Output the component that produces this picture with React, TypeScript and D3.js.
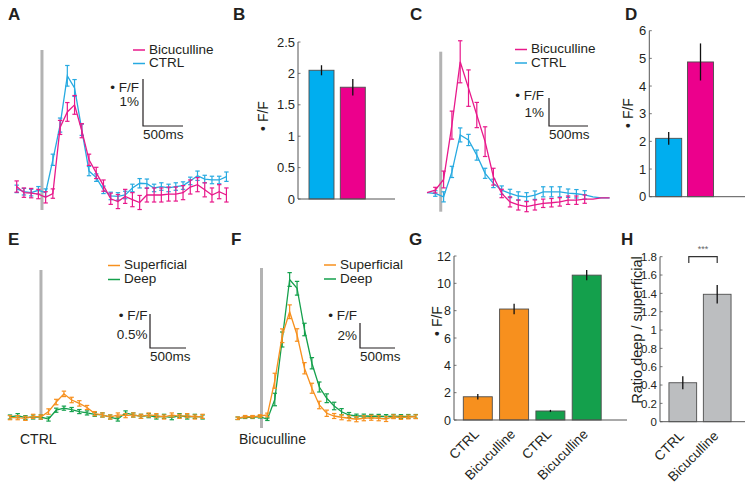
import React, { useEffect, useRef } from 'react';
import * as d3 from 'd3';

const FONT = "'Liberation Sans', Arial, Helvetica, sans-serif";
const INK = '#231f20';
const MAGENTA = '#e8198b';
const CYAN = '#27aae1';
const ORANGE = '#f7901e';
const GREEN = '#14a04c';
const BAR_CYAN = '#00aeef';
const BAR_MAGENTA = '#ec008c';
const BAR_GRAY = '#bcbec0';
const STIM_GRAY = '#b3b3b3';

// ---- A: time course, % dF/F per frame
const A_CTRL = [0.02, -0.04, -0.06, -0.01, -0.06, 0.64, 1.38, 2.43, 2.17, 1.28, 0.4, 0.26, 0.0, -0.13, -0.14, -0.11, 0.04, 0.14, 0.13, 0.04, 0.07, 0.04, 0.07, 0.09, 0.19, 0.3, 0.23, 0.21, 0.21, 0.28];
const A_CTRL_ERR = [0.08, 0.07, 0.07, 0.08, 0.08, 0.12, 0.15, 0.22, 0.18, 0.12, 0.1, 0.08, 0.08, 0.08, 0.08, 0.08, 0.08, 0.1, 0.1, 0.08, 0.08, 0.08, 0.08, 0.08, 0.08, 0.1, 0.08, 0.08, 0.08, 0.1];
const A_BIC = [0.07, -0.06, -0.07, -0.09, -0.16, -0.08, 1.33, 1.66, 1.81, 1.26, 0.64, 0.36, 0.09, -0.19, -0.25, -0.14, -0.21, -0.27, -0.11, -0.11, -0.11, -0.09, -0.09, -0.06, 0.06, 0.11, 0.0, -0.11, -0.04, -0.11];
const A_BIC_ERR = [0.12, 0.1, 0.1, 0.1, 0.12, 0.1, 0.15, 0.2, 0.2, 0.15, 0.12, 0.12, 0.12, 0.12, 0.15, 0.15, 0.15, 0.15, 0.15, 0.15, 0.15, 0.15, 0.15, 0.15, 0.15, 0.15, 0.15, 0.15, 0.15, 0.15];

// ---- C
const C_CTRL = [-0.02, -0.05, -0.17, 0.72, 2.04, 1.86, 1.32, 0.67, 0.31, 0.07, -0.05, -0.14, -0.17, -0.11, 0.01, 0.01, 0.01, -0.04, -0.06, -0.1, -0.17, -0.21, -0.21];
const C_CTRL_ERR = [0, 0.1, 0.18, 0.2, 0.25, 0.2, 0.18, 0.18, 0.15, 0.15, 0.15, 0.15, 0.15, 0.15, 0.18, 0.18, 0.18, 0.15, 0.15, 0.15, 0, 0, 0];
const C_BIC = [-0.02, 0.07, 0.45, 2.39, 4.65, 3.71, 2.75, 1.8, 0.55, -0.05, -0.35, -0.46, -0.52, -0.46, -0.4, -0.38, -0.35, -0.29, -0.29, -0.25, -0.25, -0.21, -0.21];
const C_BIC_ERR = [0, 0.1, 0.3, 0.5, 0.75, 0.65, 0.45, 0.53, 0.3, 0.15, 0.18, 0.18, 0.18, 0.18, 0.15, 0.15, 0.15, 0.15, 0.15, 0.15, 0, 0, 0];

// ---- E (CTRL)
const E_SUP = [-0.01, -0.01, -0.02, 0.01, 0.0, 0.08, 0.22, 0.34, 0.25, 0.2, 0.14, 0.05, 0.03, 0.0, 0.03, 0.02, 0.03, 0.01, 0.03, 0.02, 0.0, 0.03, 0.01, 0.02, 0.0, 0.01];
const E_SUP_ERR = [0.03, 0.03, 0.03, 0.03, 0.03, 0.04, 0.04, 0.04, 0.04, 0.04, 0.03, 0.03, 0.03, 0.03, 0.03, 0.03, 0.03, 0.03, 0.03, 0.03, 0.03, 0.03, 0.03, 0.03, 0.03, 0.03];
const E_DEEP = [0.0, 0.02, -0.01, 0.0, 0.0, -0.03, 0.1, 0.13, 0.11, 0.08, 0.06, 0.04, 0.03, 0.0, -0.03, 0.06, 0.03, 0.01, 0.02, 0.0, 0.01, -0.01, 0.02, 0.0, 0.01, 0.0];
const E_DEEP_ERR = [0.03, 0.03, 0.03, 0.03, 0.03, 0.03, 0.03, 0.03, 0.03, 0.03, 0.03, 0.03, 0.03, 0.03, 0.03, 0.03, 0.03, 0.03, 0.03, 0.03, 0.03, 0.03, 0.03, 0.03, 0.03, 0.03];

// ---- F (Bicuculline)
const F_SUP = [-0.1, 0.02, 0.02, 0.08, 0.16, 2.9, 6.5, 8.42, 6.56, 3.9, 2.3, 0.96, 0.3, 0.08, -0.02, -0.1, -0.18, -0.1, -0.06, -0.1, -0.16, 0.02, -0.04, 0.0, 0.02];
const F_SUP_ERR = [0.1, 0.1, 0.1, 0.1, 0.15, 0.6, 0.55, 0.55, 0.5, 0.45, 0.4, 0.3, 0.25, 0.2, 0.2, 0.2, 0.2, 0.2, 0.2, 0.2, 0.2, 0.15, 0.15, 0.15, 0.15];
const F_DEEP = [-0.1, -0.02, -0.02, 0.02, -0.18, 1.4, 6.2, 11.0, 10.3, 7.0, 4.3, 2.4, 1.5, 0.88, 0.42, 0.16, 0.08, 0.08, 0.06, 0.06, 0.04, 0.06, 0.04, 0.05, 0.05];
const F_DEEP_ERR = [0.1, 0.1, 0.1, 0.1, 0.1, 0.5, 0.6, 0.55, 0.55, 0.5, 0.45, 0.4, 0.35, 0.3, 0.25, 0.2, 0.15, 0.15, 0.15, 0.15, 0.15, 0.15, 0.15, 0.15, 0.15];

// ---- bar panels
const B_VALUES = [2.05, 1.78];
const B_ERR = [0.08, 0.13];
const B_TICKS = [0, 0.5, 1, 1.5, 2, 2.5];

const D_VALUES = [2.11, 4.87];
const D_ERR = [0.23, 0.67];
const D_TICKS = [0, 1, 2, 3, 4, 5, 6];

const G_CATEGORIES = ['CTRL', 'Bicuculline', 'CTRL', 'Bicuculline'];
const G_VALUES = [1.7, 8.12, 0.66, 10.6];
const G_ERR = [0.2, 0.39, 0.08, 0.37];
const G_TICKS = [0, 2, 4, 6, 8, 10, 12];

const H_CATEGORIES = ['CTRL', 'Bicuculline'];
const H_VALUES = [0.425, 1.39];
const H_ERR = [0.07, 0.1];
const H_TICKS = [0, 0.2, 0.4, 0.6, 0.8, 1, 1.2, 1.4, 1.6, 1.8];

type Sel = d3.Selection<SVGSVGElement, unknown, null, undefined>;

interface Trace { label: string; values: number[]; err: number[]; color: string }

interface TraceLayout {
  x0: number; pxPerMs: number; frameMs: number; stimMs: number;
  yDomain: [number, number]; yTop: number; yBottom: number;
  unit: number; unitLabel: string;
  bar: { x: number; y: number; ffY: number; pctY: number; textRight: number };
  legend: { x: number; y: number; gap: number };
  caption?: { text: string; x: number; y: number };
}

const textStyle = (t: d3.Selection<SVGTextElement, unknown, null, undefined>, size = 14) =>
  t.attr('font-family', FONT).attr('font-size', size).attr('fill', INK);

function drawLetter(svg: Sel, letter: string, x: number, y: number) {
  textStyle(svg.append('text'), 17).attr('x', x).attr('y', y).attr('font-weight', 'bold').text(letter);
}

function drawTraces(svg: Sel, layout: TraceLayout, traces: Trace[], legendOrder: Trace[]) {
  const g = svg.append('g');
  const x = d3.scaleLinear().domain([0, 1000]).range([layout.x0, layout.x0 + 1000 * layout.pxPerMs]);
  const y = d3.scaleLinear().domain(layout.yDomain).range([layout.yBottom, layout.yTop]);
  const t = (i: number) => i * layout.frameMs;

  // stimulus marker
  g.append('line')
    .attr('x1', x(layout.stimMs)).attr('x2', x(layout.stimMs))
    .attr('y1', y(layout.yDomain[0])).attr('y2', y(layout.yDomain[1]))
    .attr('stroke', STIM_GRAY).attr('stroke-width', 3);

  traces.forEach(tr => {
    const line = d3.line<number>().x((_, i) => x(t(i))).y(v => y(v));
    g.append('path').attr('d', line(tr.values) || '')
      .attr('fill', 'none').attr('stroke', tr.color).attr('stroke-width', 1.3);

    const eb = g.append('g').attr('stroke', tr.color).attr('stroke-width', 1.2);
    tr.values.forEach((v, i) => {
      const e = tr.err[i];
      if (!e) return;
      const cx = x(t(i));
      eb.append('line').attr('x1', cx).attr('x2', cx).attr('y1', y(v - e)).attr('y2', y(v + e));
      [v - e, v + e].forEach(ev => {
        eb.append('line').attr('x1', cx - 2.2).attr('x2', cx + 2.2).attr('y1', y(ev)).attr('y2', y(ev));
      });
    });
  });

  // scale bar
  const sb = layout.bar;
  const vLen = y(0) - y(layout.unit);
  const hLen = x(500) - x(0);
  g.append('path')
    .attr('d', `M${sb.x},${sb.y - vLen}V${sb.y}H${sb.x + hLen}`)
    .attr('fill', 'none').attr('stroke', INK).attr('stroke-width', 1.2);
  textStyle(g.append('text'), 13.5).attr('x', sb.textRight).attr('y', sb.ffY).attr('text-anchor', 'end').text('• F/F');
  textStyle(g.append('text'), 13.5).attr('x', sb.textRight).attr('y', sb.pctY).attr('text-anchor', 'end').text(layout.unitLabel);
  textStyle(g.append('text'), 13.5).attr('x', sb.x).attr('y', sb.y + 13).text('500ms');

  // legend
  legendOrder.forEach((tr, k) => {
    const ly = layout.legend.y + k * layout.legend.gap;
    g.append('line').attr('x1', layout.legend.x).attr('x2', layout.legend.x + 12)
      .attr('y1', ly - 3.5).attr('y2', ly - 3.5).attr('stroke', tr.color).attr('stroke-width', 1.5);
    textStyle(g.append('text'), 13.5).attr('x', layout.legend.x + 16).attr('y', ly).text(tr.label);
  });

  if (layout.caption) {
    textStyle(g.append('text')).attr('x', layout.caption.x).attr('y', layout.caption.y).text(layout.caption.text);
  }
}

interface BarLayout {
  c0: number; step: number; barW: number; axisL: number; axisR: number;
  yTop: number; yBottom: number; yMax: number; tickSize: number;
  yLabel: { text: string; x: number; y: number; size: number };
}

function drawBars(svg: Sel, layout: BarLayout, values: number[], errs: number[], colors: string[],
                  ticks: number[], categories?: string[]) {
  const g = svg.append('g');
  const x = d3.scaleLinear().domain([0, 1]).range([layout.c0, layout.c0 + layout.step]);
  const y = d3.scaleLinear().domain([0, layout.yMax]).range([layout.yBottom, layout.yTop]);

  values.forEach((v, i) => {
    g.append('rect')
      .attr('x', x(i) - layout.barW / 2).attr('y', y(v))
      .attr('width', layout.barW).attr('height', y(0) - y(v))
      .attr('fill', colors[i]).attr('stroke', '#4d4d4d').attr('stroke-width', 0.9);
    g.append('line')
      .attr('x1', x(i)).attr('x2', x(i)).attr('y1', y(v - errs[i])).attr('y2', y(v + errs[i]))
      .attr('stroke', '#111').attr('stroke-width', 1.3);
  });

  // axes
  g.append('path')
    .attr('d', `M${layout.axisL},${y(layout.yMax)}V${y(0)}H${layout.axisR}`)
    .attr('fill', 'none').attr('stroke', '#555').attr('stroke-width', 1);
  ticks.forEach(tv => {
    g.append('line').attr('x1', layout.axisL).attr('x2', layout.axisL + 2.5)
      .attr('y1', y(tv)).attr('y2', y(tv)).attr('stroke', '#555').attr('stroke-width', 0.8);
    textStyle(g.append('text'), layout.tickSize).attr('x', layout.axisL - 3).attr('y', y(tv)).attr('dy', '0.36em')
      .attr('text-anchor', 'end').text(String(Math.round(tv * 10) / 10));
  });

  const yl = layout.yLabel;
  textStyle(g.append('text'), yl.size)
    .attr('transform', `translate(${yl.x},${yl.y}) rotate(-90)`)
    .attr('text-anchor', 'middle').attr('dy', '0.36em').text(yl.text);

  if (categories) {
    categories.forEach((c, i) => {
      textStyle(g.append('text'), 13.5)
        .attr('transform', `translate(${x(i) + 2},${y(0) + 15}) rotate(-45)`)
        .attr('text-anchor', 'end').text(c);
    });
  }
  return { x, y, g };
}

const App: React.FC = () => {
  const svgRef = useRef<SVGSVGElement>(null);

  useEffect(() => {
    if (!svgRef.current) return;
    const svg = d3.select(svgRef.current);
    svg.selectAll('*').remove();

    const ctrlA = { label: 'CTRL', values: A_CTRL, err: A_CTRL_ERR, color: CYAN };
    const bicA = { label: 'Bicuculline', values: A_BIC, err: A_BIC_ERR, color: MAGENTA };
    drawTraces(svg, {
      x0: 16.7, pxPerMs: 0.08, frameMs: 90.4, stimMs: 316,
      yDomain: [-0.43, 2.98], yTop: 50, yBottom: 210, unit: 1, unitLabel: '1%',
      bar: { x: 143, y: 126, ffY: 92, pctY: 105.5, textRight: 139 },
      legend: { x: 133, y: 53.5, gap: 13.5 },
    }, [ctrlA, bicA], [bicA, ctrlA]);

    const ctrlC = { label: 'CTRL', values: C_CTRL, err: C_CTRL_ERR, color: CYAN };
    const bicC = { label: 'Bicuculline', values: C_BIC, err: C_BIC_ERR, color: MAGENTA };
    drawTraces(svg, {
      x0: 427, pxPerMs: 0.078, frameMs: 106.4, stimMs: 176,
      yDomain: [-0.7, 5.01], yTop: 51.7, yBottom: 211.7, unit: 1, unitLabel: '1%',
      bar: { x: 549, y: 126, ffY: 100, pctY: 117, textRight: 544 },
      legend: { x: 515, y: 53, gap: 13.5 },
    }, [ctrlC, bicC], [bicC, ctrlC]);

    const supE = { label: 'Superficial', values: E_SUP, err: E_SUP_ERR, color: ORANGE };
    const deepE = { label: 'Deep', values: E_DEEP, err: E_DEEP_ERR, color: GREEN };
    drawTraces(svg, {
      x0: 10, pxPerMs: 0.072, frameMs: 107, stimMs: 430,
      yDomain: [-0.044, 2.16], yTop: 270, yBottom: 420, unit: 0.5, unitLabel: '0.5%',
      bar: { x: 150, y: 348, ffY: 320, pctY: 339, textRight: 147.5 },
      legend: { x: 108, y: 269, gap: 14 },
      caption: { text: 'CTRL', x: 20, y: 444 },
    }, [deepE, supE], [supE, deepE]);

    const supF = { label: 'Superficial', values: F_SUP, err: F_SUP_ERR, color: ORANGE };
    const deepF = { label: 'Deep', values: F_DEEP, err: F_DEEP_ERR, color: GREEN };
    drawTraces(svg, {
      x0: 237.7, pxPerMs: 0.07, frameMs: 106, stimMs: 340,
      yDomain: [-0.88, 11.92], yTop: 268, yBottom: 428, unit: 2, unitLabel: '2%',
      bar: { x: 360, y: 348, ffY: 320, pctY: 340, textRight: 357 },
      legend: { x: 324, y: 268.5, gap: 14 },
      caption: { text: 'Bicuculline', x: 239, y: 444 },
    }, [deepF, supF], [supF, deepF]);

    drawBars(svg, {
      c0: 321.5, step: 31.3, barW: 25, axisL: 298, axisR: 395, yTop: 42, yBottom: 199, yMax: 2.5, tickSize: 13,
      yLabel: { text: '• F/F', x: 263, y: 116, size: 14 },
    }, B_VALUES, B_ERR, [BAR_CYAN, BAR_MAGENTA], B_TICKS);

    drawBars(svg, {
      c0: 668.7, step: 31.8, barW: 26, axisL: 649.3, axisR: 745, yTop: 30.7, yBottom: 196.7, yMax: 6, tickSize: 13,
      yLabel: { text: '• F/F', x: 628, y: 113, size: 14 },
    }, D_VALUES, D_ERR, [BAR_CYAN, BAR_MAGENTA], D_TICKS);

    drawBars(svg, {
      c0: 477.8, step: 36.3, barW: 29, axisL: 454, axisR: 627, yTop: 256, yBottom: 420, yMax: 12, tickSize: 12.5,
      yLabel: { text: '• F/F', x: 437, y: 321, size: 14 },
    }, G_VALUES, G_ERR, [ORANGE, ORANGE, GREEN, GREEN], G_TICKS, G_CATEGORIES);

    const h = drawBars(svg, {
      c0: 682.8, step: 34.4, barW: 27.7, axisL: 660, axisR: 745, yTop: 256.7, yBottom: 421.7, yMax: 1.8, tickSize: 11.5,
      yLabel: { text: 'Ratio deep / superficial', x: 637, y: 330, size: 14.5 },
    }, H_VALUES, H_ERR, [BAR_GRAY, BAR_GRAY], H_TICKS, H_CATEGORIES);

    // significance bracket between the two H bars
    const bx1 = h.x(0) + 6;
    const bx2 = h.x(1);
    h.g.append('path')
      .attr('d', `M${bx1},${h.y(1.73)}V${h.y(1.8)}H${bx2}V${h.y(1.73)}`)
      .attr('fill', 'none').attr('stroke', '#333').attr('stroke-width', 1.2);
    h.g.append('text').attr('x', (bx1 + bx2) / 2).attr('y', h.y(1.8) - 5)
      .attr('text-anchor', 'middle').attr('font-family', FONT).attr('font-size', 9).attr('fill', '#666')
      .text('***');

    drawLetter(svg, 'A', 8, 20);
    drawLetter(svg, 'B', 233, 20);
    drawLetter(svg, 'C', 410, 20);
    drawLetter(svg, 'D', 625, 20);
    drawLetter(svg, 'E', 8, 245);
    drawLetter(svg, 'F', 231, 245);
    drawLetter(svg, 'G', 409, 245);
    drawLetter(svg, 'H', 621, 245);
  }, []);

  return (
    <svg ref={svgRef} width={754} height={488}
      style={{ position: 'absolute', left: 0, top: 0, background: '#fff' }} />
  );
};

export default App;
